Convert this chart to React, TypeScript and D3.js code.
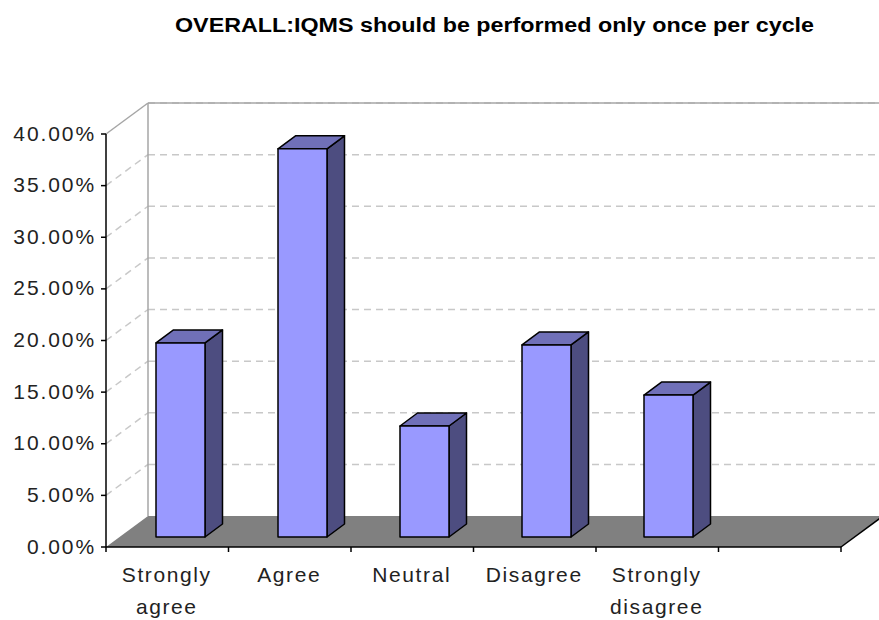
import React from "react";
import * as d3 from "d3";

const categories: string[][] = [["Strongly", "agree"], ["Agree"], ["Neutral"], ["Disagree"], ["Strongly", "disagree"], []];
const shares: (number | null)[] = [18.8, 37.6, 10.75, 18.6, 13.75, null];
const yTicks = [0, 5, 10, 15, 20, 25, 30, 35, 40];
const title = "OVERALL:IQMS should be performed only once per cycle";

const W = 879;
const H = 620;
const depthX = 42;
const depthY = 31;
const barDepthX = 17.5;
const barDepthY = 13;
const barInsetY = 10;
const barWidth = 49;
const font = "'Liberation Sans', Arial, sans-serif";

const y = d3.scaleLinear().domain([0, 40]).range([547, 134]);
const x = d3.scaleBand<number>().domain(d3.range(categories.length)).range([106, 841]);
// Bars sit one step back on the floor, so their spacing is slightly tighter than the axis bands.
const barX = d3.scaleLinear().domain([0, 5]).range([156, 766]);
const poly = (pts: number[][]) => (d3.line()(pts as [number, number][]) ?? "") + "Z";

export default function App() {
  const left = x.range()[0];
  const right = x.range()[1];
  const y0 = y(0);
  const ticksX = d3.range(categories.length + 1).map((i) => left + i * x.bandwidth());
  return (
    <svg width={W} height={H} viewBox={`0 0 ${W} ${H}`} style={{ position: "absolute", left: 0, top: 0, background: "#fff" }} fontFamily={font}>
      <text x={494.5} y={32} textAnchor="middle" fontSize={20} fontWeight="bold" fill="#000" textLength={639} lengthAdjust="spacingAndGlyphs">{title}</text>

      {/* Gridlines on the side wall and back wall */}
      {yTicks.slice(1).map((t) => (
        <g key={t} fill="none" stroke="#c8c8c8" strokeWidth={1.5} strokeDasharray="7 5">
          {t < 40 && <line x1={left} y1={y(t)} x2={left + depthX} y2={y(t) - depthY} />}
          <line x1={left + depthX} y1={y(t) - depthY} x2={W} y2={y(t) - depthY} />
        </g>
      ))}

      {/* Wall edges */}
      <g fill="none" stroke="#a6a6a6" strokeWidth={1.5}>
        <line x1={left + depthX} y1={y(40) - depthY} x2={left + depthX} y2={y0 - depthY} />
        <line x1={left} y1={y(40)} x2={left + depthX} y2={y(40) - depthY} />
        <line x1={left + depthX} y1={y(40) - depthY} x2={W} y2={y(40) - depthY} />
      </g>

      {/* Floor */}
      <path d={poly([[left, y0], [right, y0], [right + depthX, y0 - depthY], [left + depthX, y0 - depthY]])} fill="#808080" />

      {/* Bars */}
      {shares.map((v, i) => {
        if (v === null) return null;
        const bx = barX(i);
        const bb = y0 - barInsetY;
        const bt = bb - (y0 - y(v));
        const bxr = bx + barWidth;
        return (
          <g key={i} stroke="#000" strokeWidth={1.5} strokeLinejoin="round">
            <path d={poly([[bxr, bb], [bxr + barDepthX, bb - barDepthY], [bxr + barDepthX, bt - barDepthY], [bxr, bt]])} fill="#4d4d80" />
            <path d={poly([[bx, bt], [bxr, bt], [bxr + barDepthX, bt - barDepthY], [bx + barDepthX, bt - barDepthY]])} fill="#7070b8" />
            <rect x={bx} y={bt} width={barWidth} height={bb - bt} fill="#9999ff" />
          </g>
        );
      })}

      {/* Value axis */}
      <g stroke="#000" strokeWidth={1.5}>
        <line x1={left} y1={y(40)} x2={left} y2={y0} />
        {yTicks.map((t) => <line key={t} x1={left - 5} y1={y(t)} x2={left} y2={y(t)} />)}
      </g>
      {yTicks.map((t) => (
        <text key={t} x={96} y={y(t) + 6.5} textAnchor="end" fontSize={21} letterSpacing={1.9} fill="#222">{t.toFixed(2)}%</text>
      ))}

      {/* Category axis */}
      <g stroke="#000" strokeWidth={1.5} fill="none">
        <line x1={left} y1={y0} x2={right} y2={y0} />
        <line x1={right} y1={y0} x2={right + depthX} y2={y0 - depthY} />
        {ticksX.map((tx) => <line key={tx} x1={tx} y1={y0} x2={tx} y2={y0 + 5} />)}
      </g>
      {categories.map((lines, i) =>
        lines.map((line, j) => (
          <text key={line} x={(x(i) as number) + x.bandwidth() / 2 - 0.5} y={582 + j * 32} textAnchor="middle" fontSize={21} letterSpacing={1.6} fill="#222">{line}</text>
        ))
      )}
    </svg>
  );
}
